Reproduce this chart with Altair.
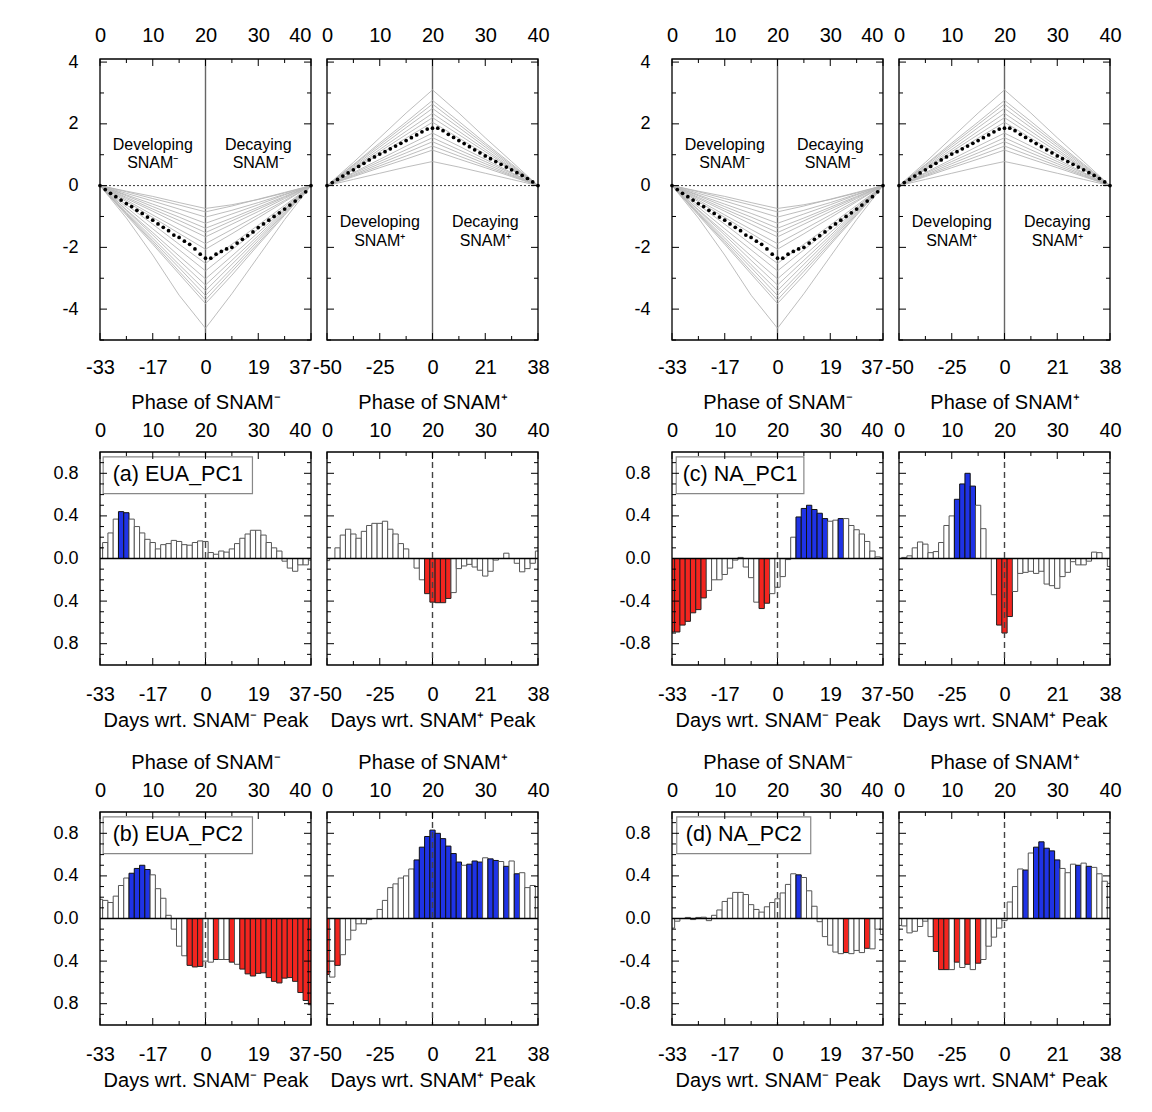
import altair as alt
import pandas as pd

FONT = "Liberation Sans"

# ---------------- data ----------------
PHASE = list(range(41))
X_MAJOR = [0, 10, 20, 30, 40]
X_MINOR = [5, 15, 25, 35]
DAYS_MINUS = ["-33", "-17", "0", "19", "37"]
DAYS_PLUS = ["-50", "-25", "0", "21", "38"]

MEMBER_PHASE = [0, 5, 10, 15, 20, 25, 30, 35, 40]
SNAM_MINUS_MEMBERS = [
    [0, -0.18, -0.35, -0.55, -0.74, -0.62, -0.45, -0.24, 0],
    [0, -0.20, -0.42, -0.63, -0.85, -0.66, -0.44, -0.22, 0],
    [0, -0.25, -0.50, -0.76, -1.02, -0.80, -0.55, -0.28, 0],
    [0, -0.30, -0.60, -0.90, -1.22, -0.92, -0.62, -0.30, 0],
    [0, -0.33, -0.68, -1.02, -1.38, -1.05, -0.70, -0.35, 0],
    [0, -0.38, -0.76, -1.13, -1.52, -1.14, -0.76, -0.38, 0],
    [0, -0.42, -0.83, -1.25, -1.66, -1.25, -0.84, -0.42, 0],
    [0, -0.47, -0.95, -1.42, -1.88, -1.42, -0.95, -0.48, 0],
    [0, -0.52, -1.03, -1.55, -2.06, -1.56, -1.04, -0.52, 0],
    [0, -0.62, -1.25, -1.90, -2.52, -1.90, -1.28, -0.64, 0],
    [0, -0.70, -1.40, -2.08, -2.76, -2.08, -1.40, -0.70, 0],
    [0, -0.78, -1.52, -2.28, -3.02, -2.28, -1.52, -0.76, 0],
    [0, -0.80, -1.60, -2.42, -3.22, -2.42, -1.62, -0.80, 0],
    [0, -0.86, -1.70, -2.56, -3.40, -2.55, -1.70, -0.85, 0],
    [0, -0.90, -1.78, -2.66, -3.56, -2.68, -1.78, -0.88, 0],
    [0, -0.92, -1.84, -2.78, -3.70, -2.78, -1.86, -0.92, 0],
    [0, -0.96, -1.90, -2.86, -3.82, -2.90, -1.92, -0.96, 0],
    [0, -1.05, -2.25, -3.55, -4.62, -3.50, -2.30, -1.10, 0],
]
SNAM_PLUS_MEMBERS = [
    [0, 0.75, 1.55, 2.35, 3.10, 2.35, 1.55, 0.78, 0],
    [0, 0.68, 1.38, 2.06, 2.76, 2.08, 1.38, 0.70, 0],
    [0, 0.66, 1.32, 1.98, 2.64, 1.98, 1.32, 0.66, 0],
    [0, 0.62, 1.25, 1.88, 2.50, 1.88, 1.25, 0.62, 0],
    [0, 0.58, 1.17, 1.76, 2.34, 1.76, 1.17, 0.58, 0],
    [0, 0.55, 1.10, 1.65, 2.20, 1.65, 1.10, 0.55, 0],
    [0, 0.51, 1.02, 1.54, 2.05, 1.54, 1.02, 0.51, 0],
    [0, 0.42, 0.85, 1.28, 1.70, 1.28, 0.85, 0.42, 0],
    [0, 0.39, 0.78, 1.16, 1.55, 1.16, 0.78, 0.39, 0],
    [0, 0.35, 0.71, 1.06, 1.42, 1.06, 0.71, 0.35, 0],
    [0, 0.32, 0.64, 0.96, 1.28, 0.96, 0.64, 0.32, 0],
    [0, 0.29, 0.58, 0.86, 1.15, 0.86, 0.58, 0.29, 0],
    [0, 0.20, 0.40, 0.60, 0.78, 0.60, 0.40, 0.20, 0],
]
SNAM_MINUS_MEAN = [0, -0.13, -0.25, -0.36, -0.47, -0.58, -0.68, -0.8, -0.9, -1.02, -1.12,
                   -1.24, -1.35, -1.46, -1.6, -1.68, -1.8, -1.9, -2.05, -2.22, -2.35,
                   -2.35, -2.22, -2.13, -2.05, -2.0, -1.86, -1.74, -1.62, -1.5, -1.36,
                   -1.24, -1.12, -1.0, -0.88, -0.76, -0.63, -0.5, -0.36, -0.2, 0]
SNAM_PLUS_MEAN = [0, 0.1, 0.2, 0.31, 0.41, 0.51, 0.62, 0.72, 0.83, 0.93, 1.02,
                  1.1, 1.19, 1.28, 1.37, 1.46, 1.55, 1.64, 1.74, 1.83, 1.86,
                  1.86, 1.78, 1.66, 1.56, 1.46, 1.36, 1.26, 1.16, 1.06, 0.96,
                  0.87, 0.78, 0.69, 0.6, 0.51, 0.42, 0.33, 0.23, 0.12, 0]

EUA_PC1_MINUS = [0.10, 0.15, 0.24, 0.37, 0.44, 0.43, 0.37, 0.30, 0.24, 0.18, 0.15,
                 0.09, 0.13, 0.14, 0.17, 0.16, 0.13, 0.125, 0.15, 0.165, 0.16,
                 0.056, 0.04, 0.07, 0.06, 0.09, 0.14, 0.19, 0.23, 0.265, 0.265,
                 0.22, 0.15, 0.10, 0.07, -0.025, -0.09, -0.12, -0.06, -0.06, -0.015]
EUA_PC1_MINUS_SIG = [4, 5]
EUA_PC1_PLUS = [-0.02, 0.0, 0.10, 0.22, 0.275, 0.23, 0.19, 0.255, 0.31, 0.33, 0.33,
                0.35, 0.275, 0.23, 0.14, 0.09, 0.0, -0.09, -0.20, -0.33, -0.41,
                -0.415, -0.415, -0.375, -0.32, -0.095, -0.07, -0.055, -0.08, -0.11, -0.165,
                -0.12, -0.015, 0.0, 0.05, 0.0, -0.045, -0.125, -0.095, -0.045, 0.07]
EUA_PC1_PLUS_SIG = [19, 20, 21, 22, 23]

EUA_PC2_MINUS = [0.18, 0.17, 0.15, 0.21, 0.31, 0.38, 0.425, 0.47, 0.50, 0.46, 0.41,
                 0.28, 0.19, 0.03, -0.10, -0.26, -0.35, -0.44, -0.455, -0.45, -0.40,
                 -0.41, -0.385, -0.385, -0.385, -0.41, -0.43, -0.475, -0.52, -0.54, -0.515,
                 -0.51, -0.555, -0.59, -0.605, -0.56, -0.555, -0.59, -0.695, -0.77, -0.81]
EUA_PC2_MINUS_SIG = [6, 7, 8, 9, 17, 18, 19, 22, 25, 27, 28, 29, 30, 31, 32, 33, 34,
                     35, 36, 37, 38, 39, 40]
EUA_PC2_PLUS = [-0.525, -0.55, -0.44, -0.34, -0.20, -0.11, -0.05, -0.05, -0.01, 0.0, 0.085,
                0.17, 0.29, 0.325, 0.38, 0.40, 0.465, 0.55, 0.67, 0.77, 0.83,
                0.80, 0.75, 0.68, 0.61, 0.53, 0.50, 0.51, 0.54, 0.53, 0.57,
                0.56, 0.545, 0.535, 0.49, 0.54, 0.42, 0.43, 0.29, 0.31, 0.20]
EUA_PC2_PLUS_SIG = [0, 2, 17, 18, 19, 20, 21, 22, 23, 24, 25, 27, 28, 29, 31, 32, 34, 36]

NA_PC1_MINUS = [-0.69, -0.69, -0.625, -0.59, -0.51, -0.48, -0.37, -0.30, -0.20, -0.20, -0.15,
                -0.09, -0.015, 0.01, -0.08, -0.18, -0.41, -0.47, -0.42, -0.33, -0.27,
                -0.17, -0.01, 0.20, 0.39, 0.47, 0.50, 0.46, 0.425, 0.375, 0.35,
                0.36, 0.375, 0.375, 0.31, 0.27, 0.23, 0.16, 0.07, 0.015, 0.01]
NA_PC1_MINUS_SIG = [0, 1, 2, 3, 4, 5, 6, 17, 18, 24, 25, 26, 27, 28, 29, 32]
NA_PC1_PLUS = [0.0, 0.01, 0.025, 0.10, 0.155, 0.135, 0.055, 0.065, 0.15, 0.31, 0.40,
               0.556, 0.70, 0.80, 0.68, 0.50, 0.28, 0.0, -0.34, -0.625, -0.70,
               -0.545, -0.31, -0.14, -0.13, -0.12, -0.14, -0.12, -0.24, -0.255, -0.28,
               -0.17, -0.13, -0.03, -0.06, -0.06, -0.025, 0.06, 0.055, 0.0, -0.075]
NA_PC1_PLUS_SIG = [11, 12, 13, 14, 19, 20, 21]

NA_PC2_MINUS = [-0.09, -0.025, 0.0, 0.01, -0.01, 0.01, 0.012, -0.02, 0.03, 0.08, 0.16,
                0.19, 0.245, 0.245, 0.225, 0.13, 0.085, 0.06, 0.11, 0.15, 0.185,
                0.24, 0.32, 0.42, 0.41, 0.385, 0.26, 0.115, -0.03, -0.17, -0.25,
                -0.315, -0.33, -0.32, -0.33, -0.30, -0.32, -0.28, -0.285, -0.10, -0.15]
NA_PC2_MINUS_SIG = [24, 33, 37]
NA_PC2_PLUS = [-0.065, -0.07, -0.135, -0.12, -0.075, -0.025, -0.17, -0.31, -0.48, -0.48, -0.48,
               -0.41, -0.46, -0.43, -0.48, -0.42, -0.385, -0.26, -0.175, -0.09, -0.02,
               0.155, 0.30, 0.465, 0.455, 0.615, 0.67, 0.72, 0.66, 0.635, 0.55,
               0.47, 0.43, 0.51, 0.50, 0.52, 0.49, 0.48, 0.42, 0.35, 0.33]
NA_PC2_PLUS_SIG = [7, 8, 9, 11, 13, 15, 24, 26, 27, 28, 29, 30, 34, 36]

# ---------------- style ----------------
W = 211
H_TOP = 281
H_BAR = 213
MAJ = 7
MIN = 4
BLUE = "#1f33e6"
RED = "#f3251f"
CATS = ["none", "pos", "neg"]
FILLS = ["white", BLUE, RED]
STROKES = ["#555555", "#111111", "#222222"]
MINUS = "SNAM\u207b"
PLUS = "SNAM\u207a"
ONE = pd.DataFrame({"t": [0]})
XLAB = 20
YLAB = 18


def xscale():
    return alt.Scale(domain=[0, 40], nice=False, zero=False)


def frame_layers(H, ydom, ymaj, ymin, day_labels, top_title, bottom_title, ylabel_expr,
                 left_of_pair, top_pad, bottom_pad):
    xs = xscale()
    ys = alt.Scale(domain=ydom, nice=False, zero=False)
    arr = "[" + ",".join("'%s'" % s for s in day_labels) + "]"
    common = dict(ticks=False, domain=False, grid=True, gridOpacity=0,
                  labelFlush=False, labelOverlap=False)
    if left_of_pair:
        xalign = {"condition": {"test": "datum.value >= 40", "value": "right"},
                  "value": "center"}
    else:
        xalign = "center"
    bottom_axis = alt.Axis(orient="bottom", values=X_MAJOR,
                           labelExpr=arr + "[round(datum.value/10)]",
                           labelAlign=xalign, labelFontSize=XLAB,
                           labelPadding=bottom_pad, title=bottom_title, titlePadding=6,
                           **common)
    top_axis = alt.Axis(orient="top", values=X_MAJOR,
                        labelExpr="format(datum.value, 'd')",
                        labelAlign=xalign, labelFontSize=XLAB,
                        labelPadding=top_pad, title=top_title, titlePadding=8, **common)
    if ylabel_expr:
        left_axis = alt.Axis(orient="left", values=ymaj, labelExpr=ylabel_expr,
                             labelFontSize=YLAB, labelPadding=22, title=None, **common)
    else:
        left_axis = None
    carrier = pd.DataFrame({"t": X_MAJOR, "y": [ydom[0]] * len(X_MAJOR)})
    xmaj = pd.DataFrame({"t": X_MAJOR})
    xmin = pd.DataFrame({"t": X_MINOR})
    ymj = pd.DataFrame({"t": ymaj})
    ymn = pd.DataFrame({"t": ymin})
    rule = dict(color="black", strokeWidth=1)
    L = [
        # invisible axis carriers (with both x and y scales)
        alt.Chart(carrier).mark_point(opacity=0).encode(
            x=alt.X("t:Q", scale=xs, axis=bottom_axis),
            y=alt.Y("y:Q", scale=ys, axis=left_axis)),
        alt.Chart(carrier).mark_point(opacity=0).encode(
            x=alt.X("t:Q", scale=xs, axis=top_axis),
            y=alt.Y("y:Q", scale=ys, axis=None)),
        # inward ticks
        alt.Chart(xmaj).mark_rule(**rule).encode(
            x=alt.X("t:Q", scale=xs, axis=None), y=alt.value(H), y2=alt.value(H - MAJ)),
        alt.Chart(xmaj).mark_rule(**rule).encode(
            x=alt.X("t:Q", scale=xs, axis=None), y=alt.value(0), y2=alt.value(MAJ)),
        alt.Chart(xmin).mark_rule(**rule).encode(
            x=alt.X("t:Q", scale=xs, axis=None), y=alt.value(H), y2=alt.value(H - MIN)),
        alt.Chart(xmin).mark_rule(**rule).encode(
            x=alt.X("t:Q", scale=xs, axis=None), y=alt.value(0), y2=alt.value(MIN)),
        alt.Chart(ymj).mark_rule(**rule).encode(
            y=alt.Y("t:Q", scale=ys, axis=None), x=alt.value(0), x2=alt.value(MAJ)),
        alt.Chart(ymj).mark_rule(**rule).encode(
            y=alt.Y("t:Q", scale=ys, axis=None), x=alt.value(W), x2=alt.value(W - MAJ)),
        alt.Chart(ymn).mark_rule(**rule).encode(
            y=alt.Y("t:Q", scale=ys, axis=None), x=alt.value(0), x2=alt.value(MIN)),
        alt.Chart(ymn).mark_rule(**rule).encode(
            y=alt.Y("t:Q", scale=ys, axis=None), x=alt.value(W), x2=alt.value(W - MIN)),
        # frame
        alt.Chart(ONE).mark_rect(filled=False, stroke="black", strokeWidth=1.3).encode(
            x=alt.value(0), x2=alt.value(W), y=alt.value(0), y2=alt.value(H)),
    ]
    return L


TOP_YDOM = [-5, 4.1]
TOP_YMAJ = [-4, -2, 0, 2, 4]
TOP_YMIN = [-5, -3, -1, 1, 3]
BAR_YDOM = [-1, 1]
BAR_YMAJ = [-0.8, -0.4, 0, 0.4, 0.8]
BAR_YMIN = [-0.9, -0.7, -0.6, -0.5, -0.3, -0.2, -0.1, 0.1, 0.2, 0.3, 0.5, 0.6, 0.7, 0.9]
TOP_YLAB = "datum.value < 0 ? '-' + abs(datum.value) : '' + datum.value"
BAR_YLAB_ABS = "format(abs(datum.value), '.1f')"
BAR_YLAB_SIGNED = "(datum.value < 0 ? '-' : '') + format(abs(datum.value), '.1f')"


def top_panel(members, mean, which, show_y):
    xs = xscale()
    ys = alt.Scale(domain=TOP_YDOM, nice=False, zero=False)
    rows = []
    for i, m in enumerate(members):
        for p, v in zip(MEMBER_PHASE, m):
            rows.append({"member": i, "phase": p, "value": v})
    mem = pd.DataFrame(rows)
    mdf = pd.DataFrame({"phase": PHASE, "value": mean})
    name = MINUS if which == "minus" else PLUS
    if which == "minus":
        ann = pd.DataFrame({"x": [10, 10, 30, 30], "y": [1.32, 0.74, 1.32, 0.74],
                            "t": ["Developing", name, "Decaying", name]})
    else:
        ann = pd.DataFrame({"x": [10, 10, 30, 30], "y": [-1.19, -1.78, -1.19, -1.78],
                            "t": ["Developing", name, "Decaying", name]})
    layers = [
        alt.Chart(pd.DataFrame({"t": [20]})).mark_rule(color="#666666", strokeWidth=1.4).encode(
            x=alt.X("t:Q", scale=xs, axis=None)),
        alt.Chart(pd.DataFrame({"t": [0]})).mark_rule(color="black", strokeWidth=0.8,
                                                       strokeDash=[2, 2]).encode(
            y=alt.Y("t:Q", scale=ys, axis=None)),
        alt.Chart(mem).mark_line(color="#b5b5b5", strokeWidth=0.9).encode(
            x=alt.X("phase:Q", scale=xs, axis=None),
            y=alt.Y("value:Q", scale=ys, axis=None),
            detail="member:N"),
        alt.Chart(mdf).mark_circle(color="black", size=14, opacity=1).encode(
            x=alt.X("phase:Q", scale=xs, axis=None),
            y=alt.Y("value:Q", scale=ys, axis=None)),
        alt.Chart(ann).mark_text(fontSize=16, color="black", font=FONT).encode(
            x=alt.X("x:Q", scale=xs, axis=None),
            y=alt.Y("y:Q", scale=ys, axis=None),
            text="t:N"),
    ]
    labels = DAYS_MINUS if which == "minus" else DAYS_PLUS
    layers += frame_layers(H_TOP, TOP_YDOM, TOP_YMAJ, TOP_YMIN, labels, None, None,
                           TOP_YLAB if show_y else None, which == "minus", 14, 17)
    return alt.layer(*layers).resolve_axis(x="independent", y="independent").properties(
        width=W, height=H_TOP)


def bar_panel(values, sig, which, ylab=None, label=None, box=None):
    assert len(values) == 41
    xs = xscale()
    ys = alt.Scale(domain=BAR_YDOM, nice=False, zero=False)
    df = pd.DataFrame({"phase": PHASE, "value": values})
    df["x0"] = df["phase"] - 0.5
    df["x1"] = df["phase"] + 0.5
    df["zero"] = 0.0
    df["cat"] = ["none" if p not in sig else ("pos" if v > 0 else "neg")
                 for p, v in zip(PHASE, values)]
    layers = [
        alt.Chart(df).mark_bar(clip=True, strokeWidth=1).encode(
            x=alt.X("x0:Q", scale=xs, axis=None), x2="x1",
            y=alt.Y("value:Q", scale=ys, axis=None), y2="zero",
            fill=alt.Fill("cat:N", scale=alt.Scale(domain=CATS, range=FILLS), legend=None),
            stroke=alt.Stroke("cat:N", scale=alt.Scale(domain=CATS, range=STROKES), legend=None)),
        alt.Chart(pd.DataFrame({"t": [0]})).mark_rule(color="black", strokeWidth=1.3).encode(
            y=alt.Y("t:Q", scale=ys, axis=None)),
        alt.Chart(pd.DataFrame({"t": [20]})).mark_rule(color="#444444", strokeWidth=1.4,
                                                        strokeDash=[6, 4]).encode(
            x=alt.X("t:Q", scale=xs, axis=None)),
    ]
    if label:
        bx0, bx1 = box
        lab = pd.DataFrame({"x0": [bx0], "x1": [bx1], "y0": [0.955], "y1": [0.61],
                            "xc": [(bx0 + bx1) / 2], "yc": [0.78], "t": [label]})
        layers += [
            alt.Chart(lab).mark_rect(fill="white", stroke="#888888", strokeWidth=1.2).encode(
                x=alt.X("x0:Q", scale=xs, axis=None), x2="x1",
                y=alt.Y("y0:Q", scale=ys, axis=None), y2="y1"),
            alt.Chart(lab).mark_text(fontSize=21.5, font=FONT, color="black",
                                     align="center", baseline="middle").encode(
                x=alt.X("xc:Q", scale=xs, axis=None),
                y=alt.Y("yc:Q", scale=ys, axis=None), text="t:N"),
        ]
    name = MINUS if which == "minus" else PLUS
    labels = DAYS_MINUS if which == "minus" else DAYS_PLUS
    layers += frame_layers(H_BAR, BAR_YDOM, BAR_YMAJ, BAR_YMIN, labels,
                           "Phase of " + name, "Days wrt. " + name + " Peak", ylab,
                           which == "minus", 12, 19)
    return alt.layer(*layers).resolve_axis(x="independent", y="independent").properties(
        width=W, height=H_BAR)


def spacer(w, h):
    return alt.Chart(ONE).mark_point(opacity=0).encode(
        x=alt.X("t:Q", axis=None), y=alt.Y("t:Q", axis=None)
    ).properties(width=w, height=h)


GAP_COL = 102
cells = [
    top_panel(SNAM_MINUS_MEMBERS, SNAM_MINUS_MEAN, "minus", True),
    top_panel(SNAM_PLUS_MEMBERS, SNAM_PLUS_MEAN, "plus", False),
    spacer(GAP_COL, H_TOP),
    top_panel(SNAM_MINUS_MEMBERS, SNAM_MINUS_MEAN, "minus", True),
    top_panel(SNAM_PLUS_MEMBERS, SNAM_PLUS_MEAN, "plus", False),
]
cells += [spacer(1, 80) for _ in range(5)]
cells += [
    bar_panel(EUA_PC1_MINUS, EUA_PC1_MINUS_SIG, "minus", BAR_YLAB_ABS, "(a) EUA_PC1", (0.6, 28.9)),
    bar_panel(EUA_PC1_PLUS, EUA_PC1_PLUS_SIG, "plus"),
    spacer(GAP_COL, H_BAR),
    bar_panel(NA_PC1_MINUS, NA_PC1_MINUS_SIG, "minus", BAR_YLAB_SIGNED, "(c) NA_PC1", (0.8, 25.0)),
    bar_panel(NA_PC1_PLUS, NA_PC1_PLUS_SIG, "plus"),
]
cells += [spacer(1, 115) for _ in range(5)]
cells += [
    bar_panel(EUA_PC2_MINUS, EUA_PC2_MINUS_SIG, "minus", BAR_YLAB_ABS, "(b) EUA_PC2", (0.6, 28.9)),
    bar_panel(EUA_PC2_PLUS, EUA_PC2_PLUS_SIG, "plus"),
    spacer(GAP_COL, H_BAR),
    bar_panel(NA_PC2_MINUS, NA_PC2_MINUS_SIG, "minus", BAR_YLAB_SIGNED, "(d) NA_PC2", (0.9, 26.3)),
    bar_panel(NA_PC2_PLUS, NA_PC2_PLUS_SIG, "plus"),
]

chart = alt.concat(*cells, columns=5, spacing=16, bounds="flush").properties(
    padding={"left": 44, "top": 17, "right": 8, "bottom": 8}
).configure(
    font=FONT, background="white"
).configure_view(
    strokeWidth=0
).configure_axis(
    labelFont=FONT, titleFont=FONT, titleFontSize=20,
    titleFontWeight="normal", labelColor="black", titleColor="black"
)

chart.save("out.html", embed_options={"renderer": "svg", "actions": False})
